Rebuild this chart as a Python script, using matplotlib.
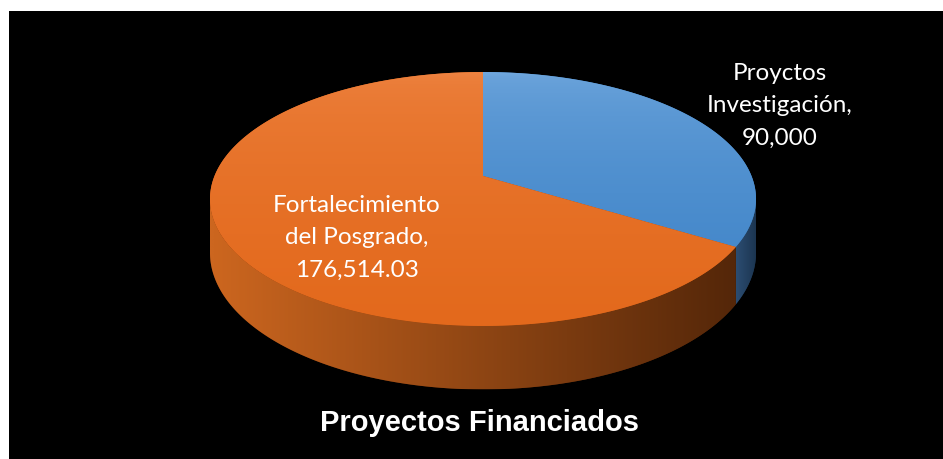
import numpy as np
import matplotlib.pyplot as plt
from matplotlib.patches import Polygon, Rectangle

# data
labels = ['Proyctos\nInvestigación,\n90,000', 'Fortalecimiento\ndel Posgrado,\n176,514.03']
values = [90000, 176514.03]
title = 'Proyectos Financiados'

# colours (top face light/dark, side light/dark)
top_cols = [('#70a7dd', '#4689cb'), ('#ed8240', '#e3691c')]
side_cols = [('#2c4d72', '#1b344f'), ('#cc661f', '#552709')]

# pie geometry in pixels (perspective look like excel 3d pie)
cx, cy = 483, 177
A, B = 268.5, 122.8
k = 0.181
depth = 52


def proj(theta, z=0.0):
    t = np.radians(theta)
    u, v = np.cos(t), np.sin(t)
    w = 1 + k * v
    return cx + A * u / w, cy - B * v / w + z * depth / w


def grad_fill(ax, xy, c1, c2, vertical=True):
    poly = Polygon(xy, closed=True, facecolor=c2, edgecolor='none')
    ax.add_patch(poly)
    x0, y0 = xy.min(axis=0)
    x1, y1 = xy.max(axis=0)
    a = np.array(plt.matplotlib.colors.to_rgb(c1))
    b = np.array(plt.matplotlib.colors.to_rgb(c2))
    s = np.linspace(0, 1, 64)[:, None]
    if vertical:
        s = np.sqrt(s)  # light only near the back edge
    img = a * (1 - s) + b * s
    if vertical:
        img = img[:, None, :]
    else:
        img = img[None, :, :]
    im = ax.imshow(img, extent=(x0, x1, y1, y0), origin='upper',
                   aspect='auto', interpolation='bilinear', zorder=poly.get_zorder())
    im.set_clip_path(poly)


fig = plt.figure(figsize=(9.43, 4.60), dpi=100)
ax = fig.add_axes([0, 0, 1, 1])
ax.axis('off')
ax.add_patch(Rectangle((9, 12), 940, 460, facecolor='black', edgecolor='none'))

fracs = np.array(values) / sum(values)
starts = 90 - 360 * np.concatenate([[0], np.cumsum(fracs)[:-1]])
ends = starts - 360 * fracs

th_r = -np.degrees(np.arcsin(k))
th_l = -180 - th_r

# sides first
for i in range(len(values)):
    for shift in (-360, 0, 360):
        lo = max(ends[i] + shift, th_l)
        hi = min(starts[i] + shift, th_r)
        if hi <= lo:
            continue
        th = np.linspace(lo, hi, 150)
        tx, ty = proj(th, 0)
        bx, by = proj(th[::-1], 1)
        xy = np.column_stack([np.concatenate([tx, bx]), np.concatenate([ty, by])])
        grad_fill(ax, xy, side_cols[i][0], side_cols[i][1], vertical=False)

# top faces
for i in range(len(values)):
    th = np.linspace(starts[i], ends[i], 300)
    x, y = proj(th, 0)
    xy = np.column_stack([np.concatenate([[cx], x]), np.concatenate([[cy], y])])
    grad_fill(ax, xy, top_cols[i][0], top_cols[i][1], vertical=True)

# data labels
label_pos = [(780, 106), (357, 238)]
for lab, (lx, ly) in zip(labels, label_pos):
    ax.text(lx, ly, lab, color='white', fontsize=17.5, family='Lato',
            ha='center', va='center', linespacing=1.65)

ax.text(480, 423, title, color='white', fontsize=21, fontweight='bold',
        family='Liberation Sans', ha='center', va='center')

ax.set_xlim(0, 943)
ax.set_ylim(460, 0)
fig.savefig('out.png', dpi=100, facecolor='white')
